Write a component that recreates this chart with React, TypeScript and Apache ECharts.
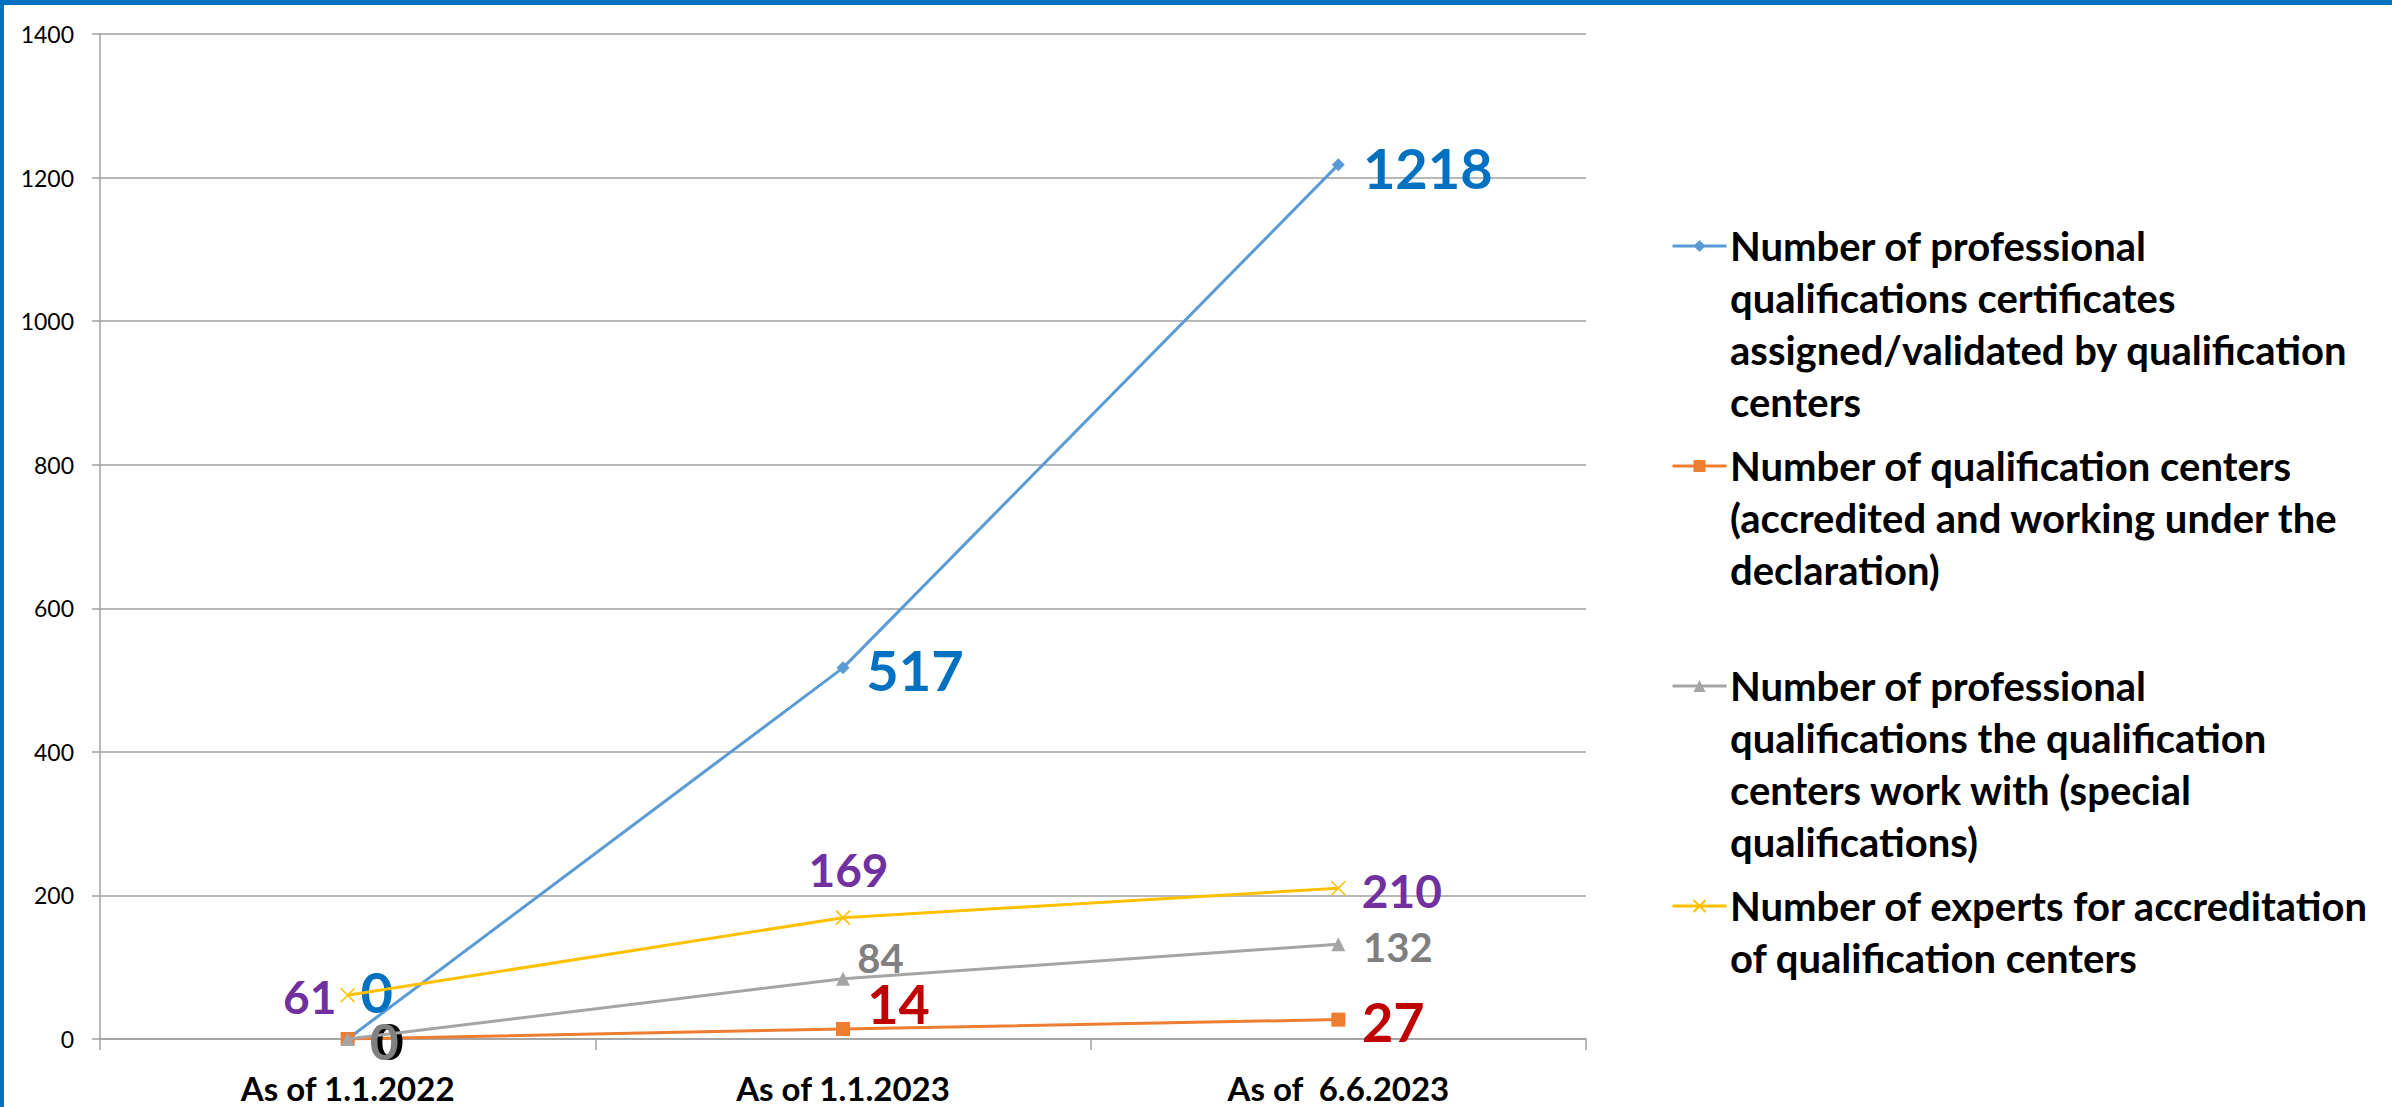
import React, { useEffect, useRef } from "react";
import * as echarts from "echarts";

// ---------- data ----------
const categories = ["As of 1.1.2022", "As of 1.1.2023", "As of  6.6.2023"];

const seriesNames = [
  "Number of professional qualifications certificates assigned/validated by qualification centers",
  "Number of qualification centers (accredited and working under the declaration)",
  "Number of professional qualifications the qualification centers work with (special qualifications)",
  "Number of experts for accreditation of qualification centers",
];

const legendLines = [
  ["Number of professional", "qualifications certificates", "assigned/validated by qualification", "centers"],
  ["Number of qualification centers", "(accredited and working under the", "declaration)"],
  ["Number of professional", "qualifications the qualification", "centers work with (special", "qualifications)"],
  ["Number of experts for accreditation", "of qualification centers"],
];

const certificates = [0, 517, 1218];
const qualificationCenters = [0, 14, 27];
const specialQualifications = [0, 84, 132];
const experts = [61, 169, 210];

const yMin = 0;
const yMax = 1400;
const yInterval = 200;

// ---------- styles ----------
const FONT = "Lato, 'Open Sans', 'DejaVu Sans', sans-serif";
const lineColors = ["#5B9BD5", "#ED7D31", "#A5A5A5", "#FFC000"];
const symbols = ["diamond", "rect", "triangle", "path://M0,0L10,10M10,0L0,10"];
const symbolSizes = [13, 14, 14, 14];
const labelColors = [
  ["#0070C0", "#0070C0", "#0070C0"],
  ["#000000", "#C00000", "#C00000"],
  ["#808080", "#808080", "#808080"],
  ["#7030A0", "#7030A0", "#7030A0"],
];
const labelSizes = [
  [56, 56, 56],
  [50, 54, 54],
  [50, 40, 40],
  [46, 46, 46],
];
const labelOffsets = [
  [[29, -48], [72, 1.5], [89.5, 3]],
  [[41.5, 2], [55.5, -25.5], [55, 2]],
  [[36.5, 2], [37.5, -20.7], [59.5, 2.5]],
  [[-38, 1.5], [5.5, -48], [63.5, 2]],
];
const legendFirstLineY = [246, 466, 686, 906];
const legendPitch = 52;
const legendIconLeft = 1671;
const legendIconWidth = 54;
const legendIconHeight = 15;
const legendTextLeft = 1730;
const legendFontSize = 40;

const allValues = [certificates, qualificationCenters, specialQualifications, experts];

export default function App() {
  const ref = useRef<HTMLDivElement>(null);

  useEffect(() => {
    if (!ref.current) return;
    const chart = echarts.init(ref.current, undefined, { renderer: "svg" });

    const series = allValues.map((vals, s) => ({
      name: seriesNames[s],
      type: "line",
      symbol: symbols[s],
      symbolSize: symbolSizes[s],
      showAllSymbol: true,
      lineStyle: { color: lineColors[s], width: 3 },
      itemStyle: {
        color: s === 3 ? "rgba(0,0,0,0)" : lineColors[s],
        borderColor: lineColors[s],
        borderWidth: s === 3 ? 1.6 : 0,
      },
      emphasis: { disabled: true },
      z: 2 + s,
      data: vals.map((v, i) => ({
        value: v,
        label: {
          show: true,
          position: "inside",
          offset: labelOffsets[s][i],
          fontSize: labelSizes[s][i],
          lineHeight: Math.round(labelSizes[s][i] * 0.72),
          fontWeight: "bold",
          fontFamily: FONT,
          color: labelColors[s][i],
        },
      })),
    }));

    const legends = seriesNames.map((name, i) => ({
      show: true,
      data: [name],
      left: legendIconLeft,
      top: legendFirstLineY[i] - legendIconHeight / 2,
      itemWidth: legendIconWidth,
      itemHeight: legendIconHeight,
      padding: 0,
      itemGap: 0,
      selectedMode: false,
      lineStyle: { width: 3 },
      formatter: () => "",
      textStyle: { fontSize: 1 },
    }));

    const legendTexts = legendLines.map((lines, i) => ({
      type: "text",
      x: legendTextLeft,
      y: legendFirstLineY[i] - legendPitch / 2,
      style: {
        text: lines.join("\n"),
        fontSize: legendFontSize,
        fontWeight: "bold",
        fontFamily: FONT,
        lineHeight: legendPitch,
        fill: "#000000",
        align: "left",
        verticalAlign: "top",
      },
    }));

    chart.setOption({
      animation: false,
      backgroundColor: "#ffffff",
      grid: { left: 100, top: 34, right: 806, bottom: 68, containLabel: false },
      legend: legends,
      xAxis: {
        type: "category",
        data: categories,
        boundaryGap: true,
        axisLine: { show: true, lineStyle: { color: "#A0A0A0", width: 1.5 } },
        axisTick: { show: true, length: 11, interval: 0, lineStyle: { color: "#A0A0A0", width: 1.5 } },
        axisLabel: {
          fontSize: 33,
          fontWeight: "bold",
          fontFamily: FONT,
          color: "#000000",
          margin: 32,
          interval: 0,
        },
      },
      yAxis: {
        type: "value",
        min: yMin,
        max: yMax,
        interval: yInterval,
        axisLine: { show: true, lineStyle: { color: "#A0A0A0", width: 1.5 } },
        axisTick: { show: true, length: 8, lineStyle: { color: "#A0A0A0", width: 1.5 } },
        splitLine: { show: true, lineStyle: { color: "#A0A0A0", width: 1.5 } },
        axisLabel: {
          fontSize: 23,
          fontFamily: FONT,
          color: "#000000",
          margin: 26,
          formatter: (v: number) => String(v),
        },
      },
      graphic: [
        { type: "rect", shape: { x: 0, y: 0, width: 2392, height: 5 }, style: { fill: "#0070C0" }, z: 100 },
        { type: "rect", shape: { x: 0, y: 0, width: 4, height: 1107 }, style: { fill: "#0070C0" }, z: 100 },
        ...legendTexts,
      ],
      series,
    });

    return () => chart.dispose();
  }, []);

  return (
    <div
      ref={ref}
      style={{ position: "fixed", left: 0, top: 0, width: 2392, height: 1107, background: "#fff" }}
    />
  );
}
